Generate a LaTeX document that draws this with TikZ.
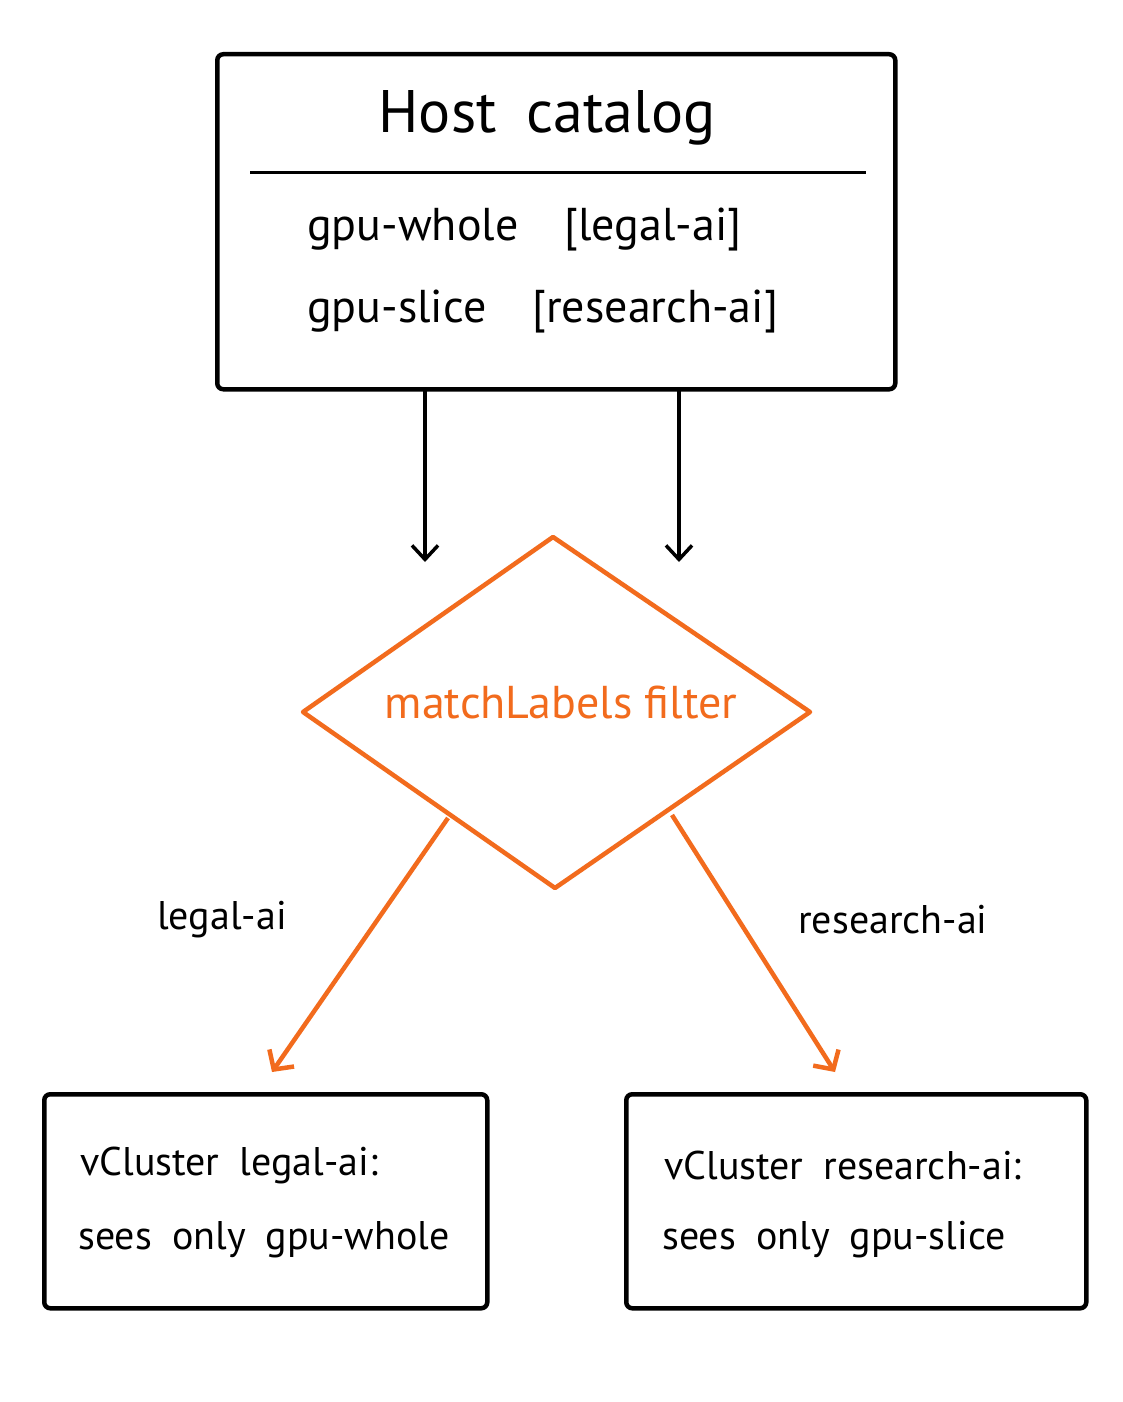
\documentclass[tikz,border=0pt]{standalone}
\usetikzlibrary{arrows.meta}
\usepackage{fontspec}
\setmainfont{PT Sans}
\definecolor{org}{HTML}{F26B1D}
\begin{document}
\begin{tikzpicture}[x=1pt,y=-1pt,
  box/.style={draw,line width=4.5pt,rounded corners=6pt},
  blk/.style={line width=3.5pt,->,>={Straight Barb[length=14pt,width=26pt]}},
  orar/.style={line width=4.5pt,draw=org,->,>={Straight Barb[length=14pt,width=30pt]}},
  txt/.style={font=\fontsize{40}{48}\selectfont,inner sep=0pt}]
\useasboundingbox (0,0) rectangle (1122,1402);
\fill[white] (0,0) rectangle (1122,1402);
\node[box,minimum width=678pt,minimum height=335pt,anchor=north west] (host) at (215,52) {};
\draw[line width=3pt] (250,172) -- (866,172);
\node[txt,font=\fontsize{60}{66}\selectfont] (title) at (547,118) {Host\enspace catalog};
\node[txt,anchor=west,font=\fontsize{46}{52}\selectfont] (l1) at (307,230) {gpu-whole\quad[legal-ai]};
\node[txt,anchor=west,font=\fontsize{46}{52}\selectfont] (l2) at (307,312) {gpu-slice\quad[research-ai]};
\coordinate (a1s) at (425,389); \coordinate (a1e) at (425,562);
\coordinate (a2s) at (679,389); \coordinate (a2e) at (679,562);
\draw[blk] (a1s) -- (a1e);
\draw[blk] (a2s) -- (a2e);
\coordinate (dt) at (553,537); \coordinate (dl) at (303,712);
\coordinate (dr) at (810,712); \coordinate (db) at (555,888);
\draw[org,line width=4.5pt,line join=round] (dt) -- (dr) -- (db) -- (dl) -- cycle;
\node[txt,text=org,font=\fontsize{46}{52}\selectfont] (filt) at (561,703) {matchLabels filter};
\coordinate (o1s) at (448,818); \coordinate (o1e) at (272,1072);
\coordinate (o2s) at (672,815); \coordinate (o2e) at (835,1072);
\draw[orar] (o1s) -- (o1e);
\draw[orar] (o2s) -- (o2e);
\node[txt] (lab1) at (222,920) {legal-ai};
\node[txt] (lab2) at (893,920) {research-ai};
\node[box,minimum width=443pt,minimum height=214pt,anchor=north west] (b1) at (42,1092) {};
\node[box,minimum width=460pt,minimum height=214pt,anchor=north west] (b2) at (624,1092) {};
\node[txt,anchor=west] (t1a) at (80,1165) {vCluster\enspace legal-ai:};
\node[txt,anchor=west] (t1b) at (78,1240) {sees\enspace only\enspace gpu-whole};
\node[txt,anchor=west] (t2a) at (664,1165) {vCluster\enspace research-ai:};
\node[txt,anchor=west] (t2b) at (662,1240) {sees\enspace only\enspace gpu-slice};
\end{tikzpicture}
\end{document}
